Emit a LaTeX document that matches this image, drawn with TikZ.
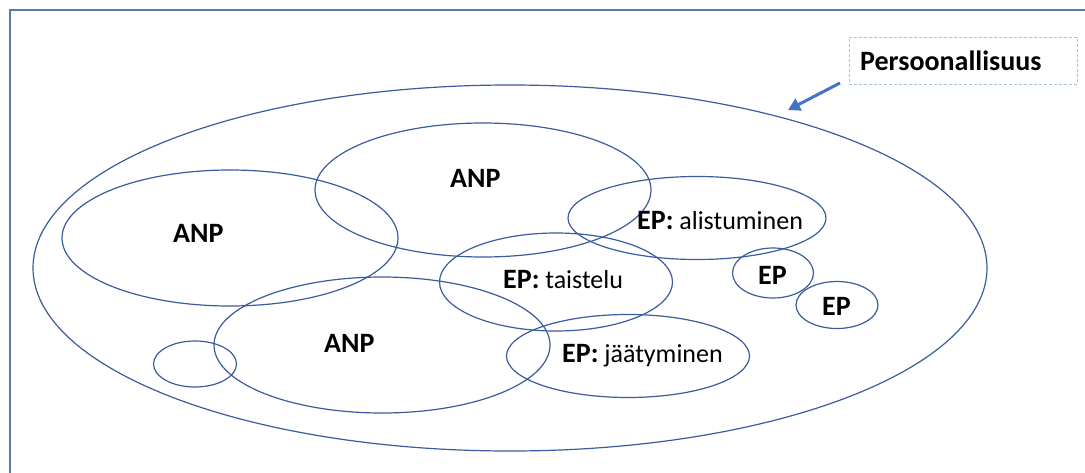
\documentclass[tikz,border=0pt]{standalone}
\usepackage{fontspec}
\setmainfont{Carlito}
\usetikzlibrary{shapes.geometric,arrows.meta}
\definecolor{ellcol}{HTML}{3B5C9C}
\definecolor{framecol}{HTML}{5B7BB0}
\definecolor{boxcol}{HTML}{A9C1E3}
\definecolor{arrcol}{HTML}{4472C4}
\newcommand{\bk}[1]{{\fontsize{28}{30}\selectfont\bfseries #1}}
\tikzset{
  ell/.style={ellipse, draw=ellcol, line width=1.2pt, inner sep=0pt, minimum width=#1},
  lbl/.style={anchor=base west, inner sep=0pt, font=\fontsize{26}{30}\selectfont},
}
\begin{document}
\begin{tikzpicture}[x=1pt,y=-1pt]
\useasboundingbox (0,0) rectangle (1085,472);
% frame
\draw[framecol, line width=2pt] (9.5,480) -- (9.5,10) -- (1090,10);
% outer ellipse
\node[ell=954pt, minimum height=366pt] (outer) at (510,268) {};
% ANP ellipses
\node[ell=336pt, minimum height=136pt] (anpL) at (230,238) {};
\node[ell=336pt, minimum height=134pt] (anpT) at (483,190) {};
\node[ell=336pt, minimum height=136pt] (anpB) at (382,345) {};
\node[ell=83pt, minimum height=46pt] (small) at (195,364) {};
% EP ellipses
\node[ell=258pt, minimum height=83pt] (epA) at (697,218) {};
\node[ell=233pt, minimum height=98pt] (epT) at (556,282) {};
\node[ell=243pt, minimum height=83pt] (epJ) at (628,356) {};
\node[ell=81pt, minimum height=50pt] (ep1) at (773,273) {};
\node[ell=82pt, minimum height=47pt] (ep2) at (837,305) {};
% labels
\node[lbl] (tAnpL) at (173,242) {\bk{ANP}};
\node[lbl] (tAnpT) at (450,187) {\bk{ANP}};
\node[lbl] (tAnpB) at (324,352) {\bk{ANP}};
\node[lbl] (tEpA) at (637,229) {\bk{EP:} alistuminen};
\node[lbl] (tEpT) at (503,288) {\bk{EP:} taistelu};
\node[lbl] (tEpJ) at (562,362) {\bk{EP:} jäätyminen};
\node[lbl] (tEp1) at (758,284) {\bk{EP}};
\node[lbl] (tEp2) at (822,315) {\bk{EP}};
% title box
\node[draw=boxcol, dashed, dash pattern=on 3pt off 2pt, line width=0.9pt, minimum width=228pt, minimum height=47pt, inner sep=0pt] (box) at (963,60.5) {};
\node[lbl] (title) at (860,70) {\bk{Persoonallisuus}};
% arrow
\coordinate (aStart) at (840,83);
\coordinate (aEnd) at (788,110);
\draw[arrcol, line width=3pt, -{Triangle[length=12pt,width=13pt]}] (aStart) -- (aEnd);
\end{tikzpicture}
\end{document}
